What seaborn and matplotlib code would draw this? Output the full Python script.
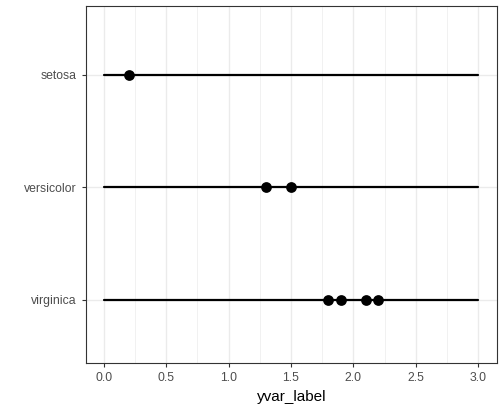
import matplotlib
matplotlib.use("Agg")
import matplotlib.pyplot as plt
import seaborn as sns
import pandas as pd
import numpy as np

species = ["setosa", "versicolor", "virginica"]
pt_species = ["setosa", "versicolor", "versicolor", "virginica", "virginica", "virginica", "virginica"]
pt_values = [0.2, 1.3, 1.5, 1.8, 1.9, 2.1, 2.2]
seg_start = [0, 0, 0]
seg_end = [3, 3, 3]
xticks = [0.0, 0.5, 1.0, 1.5, 2.0, 2.5, 3.0]

sns.set_style("white")
plt.rcParams['font.family'] = ['Liberation Sans', 'DejaVu Sans']
fig = plt.figure(figsize=(5.04, 4.13), dpi=100)
ax = fig.add_axes([86/504, 50/413, 411/504, 357/413])

ypos = {s: i for i, s in enumerate(species)}
for x in np.arange(-0.25, 3.3, 0.25):
    major = abs(x*2 - round(x*2)) < 1e-9
    ax.axvline(x, color="#ebebeb", lw=1.0 if major else 0.5, zorder=0)
for i in range(len(species)):
    ax.axhline(i, color="#ebebeb", lw=1.0, zorder=0)
for s, a, b in zip(species, seg_start, seg_end):
    ax.plot([a, b], [ypos[s], ypos[s]], color="black", lw=1.6, zorder=2)
df = pd.DataFrame({"species": pt_species, "value": pt_values})
df["y"] = df["species"].map(ypos)
sns.scatterplot(data=df, x="value", y="y", color="black", s=60, ax=ax, zorder=3, edgecolor="black", linewidth=0)

ax.set_xlim(-0.144, 3.152)
ax.set_ylim(2.56, -0.61)
ax.set_yticks(range(len(species)))
ax.set_yticklabels(species)
ax.set_xticks(xticks)
ax.set_xticklabels([f"{t:.1f}" for t in xticks])
ax.tick_params(axis="both", colors="#333333", labelcolor="#4d4d4d", labelsize=8.8, length=3, width=0.8, left=True, bottom=True)
ax.set_xlabel("yvar_label", fontsize=11, color="black", labelpad=4)
ax.set_ylabel("")
for sp in ax.spines.values():
    sp.set_color("#333333"); sp.set_linewidth(0.8); sp.set_visible(True)
fig.savefig("out.png", dpi=100)
